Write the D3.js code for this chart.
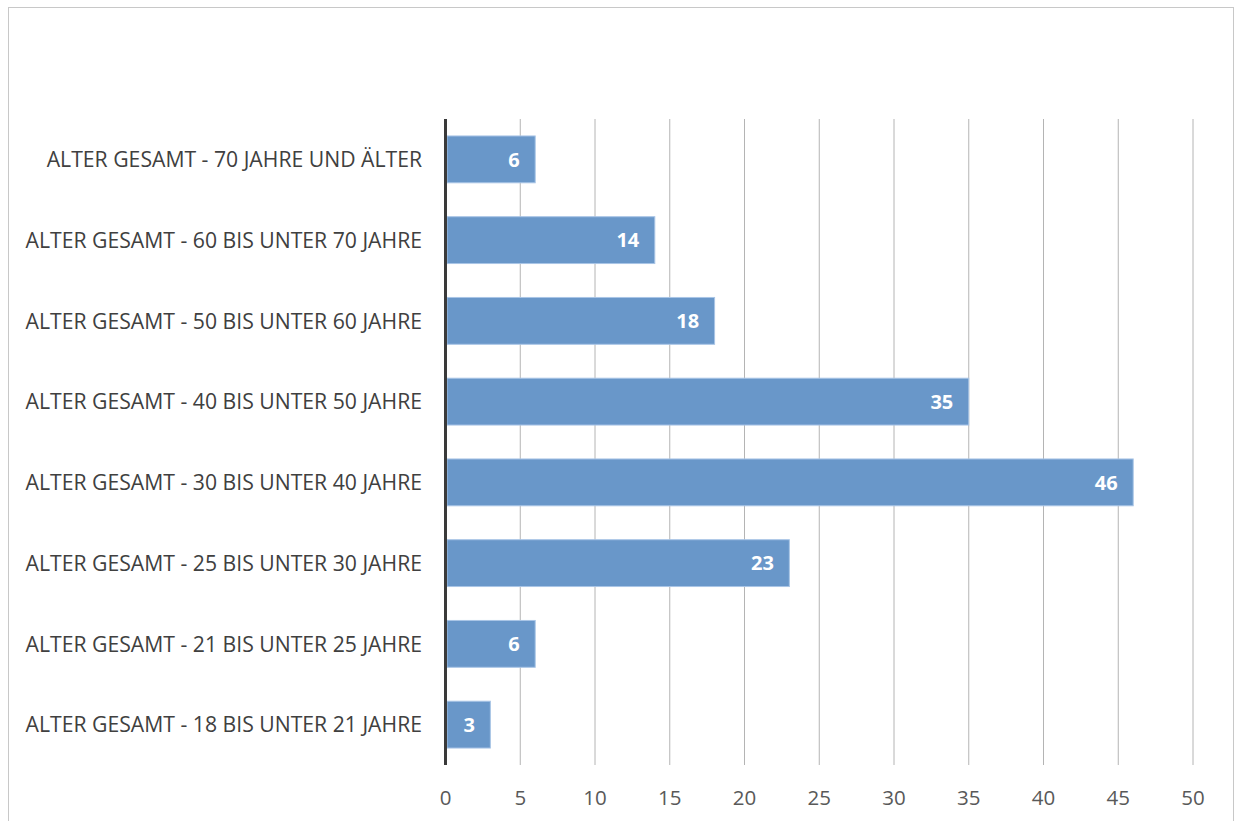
<!DOCTYPE html>
<html><head><meta charset="utf-8">
<script src="https://cdn.jsdelivr.net/npm/d3@7"></script>
<style>body{margin:0;background:#fff}svg{display:block}</style>
</head><body>
<svg id="c" width="1235" height="821"></svg>
<script>
const categories = [
  "ALTER GESAMT - 70 JAHRE UND ÄLTER",
  "ALTER GESAMT - 60 BIS UNTER 70 JAHRE",
  "ALTER GESAMT - 50 BIS UNTER 60 JAHRE",
  "ALTER GESAMT - 40 BIS UNTER 50 JAHRE",
  "ALTER GESAMT - 30 BIS UNTER 40 JAHRE",
  "ALTER GESAMT - 25 BIS UNTER 30 JAHRE",
  "ALTER GESAMT - 21 BIS UNTER 25 JAHRE",
  "ALTER GESAMT - 18 BIS UNTER 21 JAHRE"
];
const values = [6, 14, 18, 35, 46, 23, 6, 3];
const ticks = [0, 5, 10, 15, 20, 25, 30, 35, 40, 45, 50];

const svg = d3.select("#c");
const font = "'Open Sans', 'Liberation Sans', sans-serif";
svg.append("rect").attr("x", 8.5).attr("y", 7.5).attr("width", 1225).attr("height", 830)
  .attr("fill", "#fff").attr("stroke", "#C8C8C8").attr("stroke-width", 1);

const x = d3.scaleLinear().domain([0, 50]).range([445.5, 1193]);
const y = d3.scaleBand().domain(categories).range([119, 765]).paddingInner(0.42).paddingOuter(0.21);

// gridlines
svg.append("g").selectAll("line").data(ticks.filter(t => t > 0)).join("line")
  .attr("x1", d => x(d)).attr("x2", d => x(d)).attr("y1", 119).attr("y2", 765)
  .attr("stroke", "#B4B4B4").attr("stroke-width", 1);

// bars
svg.append("g").selectAll("rect").data(values).join("rect")
  .attr("x", x(0) + 1.5).attr("y", (d, i) => y(categories[i]))
  .attr("width", d => x(d) - x(0) - 1.5).attr("height", y.bandwidth())
  .attr("fill", "#6997C9").attr("stroke", "#A9C5E6").attr("stroke-width", 1);

// value labels
svg.append("g").selectAll("text").data(values).join("text")
  .attr("x", d => x(d) - 15.5).attr("y", (d, i) => y(categories[i]) + y.bandwidth() / 2)
  .attr("dy", "0.36em").attr("text-anchor", "end")
  .attr("font-family", font).attr("font-weight", "bold").attr("font-size", 20)
  .attr("fill", "#fff").text(d => d);

// axis line
svg.append("line").attr("x1", x(0)).attr("x2", x(0)).attr("y1", 119).attr("y2", 765)
  .attr("stroke", "#3A3A3A").attr("stroke-width", 3);

// category labels
svg.append("g").selectAll("text").data(categories).join("text")
  .attr("x", 422).attr("y", d => y(d) + y.bandwidth() / 2).attr("dy", "0.36em")
  .attr("text-anchor", "end").attr("font-family", font).attr("font-size", 21.2)
  .attr("fill", "#404040").text(d => d);

// tick labels
svg.append("g").selectAll("text").data(ticks).join("text")
  .attr("x", d => x(d)).attr("y", 798).attr("dy", "0.36em").attr("text-anchor", "middle")
  .attr("font-family", font).attr("font-size", 20.5).attr("fill", "#595959").text(d => d);
</script>
</body></html>
